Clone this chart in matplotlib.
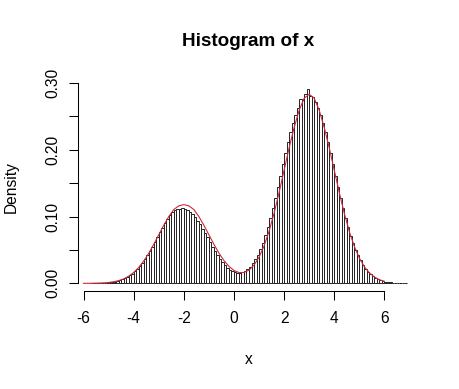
import matplotlib
matplotlib.use("Agg")
import matplotlib.pyplot as plt
import numpy as np

plt.rcParams['font.family'] = ['Liberation Sans', 'DejaVu Sans']

# histogram of x: density per bin of width 0.1, first bin starting at -5.7
bin_start = -5.7
bin_width = 0.1
heights = [
    0.0001, 0.0002, 0.0003, 0.0005, 0.0006, 0.0008, 0.0011, 0.0015, 0.0021, 0.0027,
    0.0036, 0.0046, 0.0059, 0.0076, 0.0095, 0.0119, 0.0146, 0.0179, 0.0216, 0.0259,
    0.0307, 0.0360, 0.0418, 0.0481, 0.0548, 0.0618, 0.0690, 0.0762, 0.0834, 0.0903,
    0.0969, 0.1029, 0.1062, 0.1096, 0.1114, 0.1120, 0.1125, 0.1110, 0.1098, 0.1066,
    0.1042, 0.0990, 0.0940, 0.0893, 0.0814, 0.0752, 0.0691, 0.0620, 0.0551, 0.0485,
    0.0423, 0.0367, 0.0318, 0.0273, 0.0236, 0.0206, 0.0182, 0.0167, 0.0159, 0.0159,
    0.0167, 0.0185, 0.0212, 0.0249, 0.0298, 0.0357, 0.0428, 0.0513, 0.0610, 0.0721,
    0.0843, 0.0978, 0.1124, 0.1279, 0.1441, 0.1609, 0.1779, 0.1946, 0.2108, 0.2261,
    0.2400, 0.2524, 0.2626, 0.2760, 0.2740, 0.2830, 0.2910, 0.2810, 0.2790, 0.2707,
    0.2626, 0.2524, 0.2400, 0.2261, 0.2108, 0.1946, 0.1779, 0.1609, 0.1441, 0.1278,
    0.1123, 0.0976, 0.0840, 0.0716, 0.0604, 0.0505, 0.0417, 0.0342, 0.0277, 0.0222,
    0.0176, 0.0139, 0.0108, 0.0083, 0.0064, 0.0048, 0.0036, 0.0027, 0.0020, 0.0014,
    0.0011, 0.0007, 0.0005, 0.0004, 0.0003, 0.0002,
]

# red density curve, read at steps of 0.2 from -6 to 6
curve_x = [
    -6.0, -5.8, -5.6, -5.4, -5.2, -5.0, -4.8, -4.6, -4.4, -4.2, -4.0, -3.8, -3.6,
    -3.4, -3.2, -3.0, -2.8, -2.6, -2.4, -2.2, -2.0, -1.8, -1.6, -1.4, -1.2, -1.0,
    -0.8, -0.6, -0.4, -0.2, 0.0, 0.2, 0.4, 0.6, 0.8, 1.0, 1.2, 1.4, 1.6, 1.8, 2.0,
    2.2, 2.4, 2.6, 2.8, 3.0, 3.2, 3.4, 3.6, 3.8, 4.0, 4.2, 4.4, 4.6, 4.8, 5.0,
    5.2, 5.4, 5.6, 5.8, 6.0,
]
curve_y = [
    0.0000, 0.0001, 0.0002, 0.0004, 0.0007, 0.0013, 0.0024, 0.0041, 0.0067, 0.0107,
    0.0162, 0.0237, 0.0333, 0.0449, 0.0583, 0.0726, 0.0869, 0.1000, 0.1105, 0.1160,
    0.1178, 0.1160, 0.1105, 0.1000, 0.0869, 0.0727, 0.0585, 0.0453, 0.0342, 0.0254,
    0.0193, 0.0162, 0.0162, 0.0198, 0.0273, 0.0391, 0.0560, 0.0780, 0.1050, 0.1360,
    0.1694, 0.2028, 0.2332, 0.2590, 0.2770, 0.2830, 0.2770, 0.2590, 0.2332, 0.2028,
    0.1694, 0.1359, 0.1048, 0.0776, 0.0553, 0.0378, 0.0249, 0.0157, 0.0095, 0.0055,
    0.0031,
]

x_ticks = [-6, -4, -2, 0, 2, 4, 6]
y_ticks = [0.00, 0.05, 0.10, 0.15, 0.20, 0.25, 0.30]
y_labels = ['0.00', '', '0.10', '', '0.20', '', '0.30']

fig = plt.figure(figsize=(4.6, 3.89), dpi=100)
ax = fig.add_axes([0.169, 0.252, 0.743, 0.535])

left_edges = bin_start + bin_width * np.arange(len(heights))
ax.bar(left_edges, heights, width=bin_width, align='edge',
       color='white', edgecolor='#222222', linewidth=0.7)
ax.plot(curve_x, curve_y, color='#cc2a3c', linewidth=0.8)

ax.set_xlim(-6.23, 7.40)
ax.set_ylim(-0.0114, 0.2968)

for side in ['top', 'right']:
    ax.spines[side].set_visible(False)
ax.spines['left'].set_bounds(0, 0.30)
ax.spines['bottom'].set_bounds(-6, 6)
for side in ['left', 'bottom']:
    ax.spines[side].set_linewidth(0.75)

ax.set_xticks(x_ticks)
ax.set_xticklabels([str(t) for t in x_ticks], fontsize=11.2)
ax.set_yticks(y_ticks)
ax.set_yticklabels(y_labels, fontsize=11.2, rotation=90, va='center')
ax.tick_params(axis='both', direction='out', length=6.5, width=0.75)
ax.tick_params(axis='x', pad=8)
ax.tick_params(axis='y', pad=6)

fig.text(248.6 / 460, 1 - 41 / 389, 'Histogram of x', ha='center', va='center',
         fontsize=13.6, fontweight='bold')
fig.text(248.6 / 460, 1 - 359 / 389, 'x', ha='center', va='center', fontsize=11.2)
fig.text(11.7 / 460, 1 - 187 / 389, 'Density', ha='center', va='center',
         rotation=90, fontsize=11.2)

fig.savefig('out.png', dpi=100)
